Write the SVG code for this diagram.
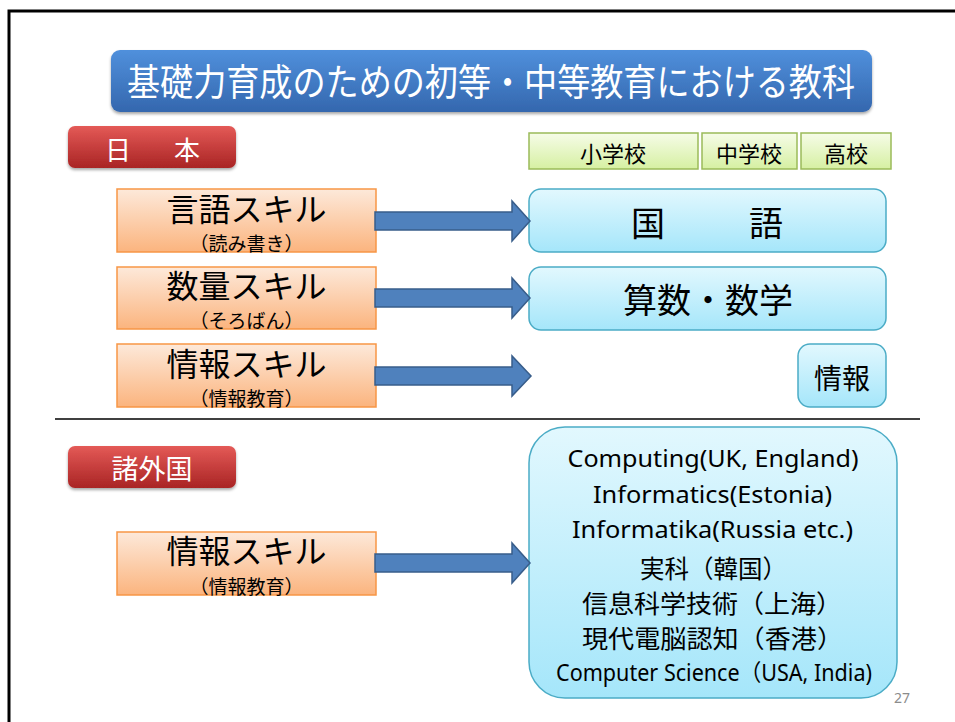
<svg xmlns="http://www.w3.org/2000/svg" width="955" height="722" viewBox="0 0 955 722">
<defs>
<linearGradient id="gTitle" x1="0" y1="0" x2="0" y2="1"><stop offset="0" stop-color="#5090dc"/><stop offset="1" stop-color="#3467ae"/></linearGradient>
<linearGradient id="gRed" x1="0" y1="0" x2="0" y2="1"><stop offset="0" stop-color="#e45a57"/><stop offset="1" stop-color="#a92424"/></linearGradient>
<linearGradient id="gOrange" x1="0" y1="0" x2="0" y2="1"><stop offset="0" stop-color="#fde9da"/><stop offset="1" stop-color="#fbb47e"/></linearGradient>
<linearGradient id="gGreen" x1="0" y1="0" x2="0" y2="1"><stop offset="0" stop-color="#f6fce8"/><stop offset="1" stop-color="#d6f0a2"/></linearGradient>
<linearGradient id="gBlue" x1="0" y1="0" x2="0" y2="1"><stop offset="0" stop-color="#e2f8fe"/><stop offset="1" stop-color="#a5e6fa"/></linearGradient>
<filter id="shadow" x="-5%" y="-10%" width="110%" height="130%"><feDropShadow dx="0" dy="2" stdDeviation="1.5" flood-color="#000" flood-opacity="0.35"/></filter>
</defs>
<style>
.jp{font-family:"Noto Sans CJK JP","Noto Sans",sans-serif}
.lat{font-family:"Noto Sans","Noto Sans CJK JP",sans-serif}
.c{text-anchor:middle;dominant-baseline:central}
.title{fill:url(#gTitle);filter:url(#shadow)}
.red{fill:url(#gRed);filter:url(#shadow)}
.skill{fill:url(#gOrange);stroke:#f79646;stroke-width:1.5}
.hdr{fill:url(#gGreen);stroke:#9bbb59;stroke-width:1.5}
.subj{fill:url(#gBlue);stroke:#4bacc6;stroke-width:1.5}
.arrow{fill:#4f81bd;stroke:#385d8a;stroke-width:1.5}
.w{fill:#fff}
.k{fill:#000}
</style>
<rect width="955" height="722" fill="#fff"/>
<path d="M9,722 V11 H955" fill="none" stroke="#000" stroke-width="3"/>
<line x1="55" y1="419" x2="920" y2="419" stroke="#404040" stroke-width="2"/>

<g id="title">
<rect class="title" x="111" y="50" width="761" height="62" rx="9"/>
<text class="jp c w" x="491" y="80" font-size="37" textLength="728" lengthAdjust="spacingAndGlyphs">基礎力育成のための初等・中等教育における教科</text>
</g>

<g id="japan">
<rect class="red" x="68" y="126" width="168" height="42" rx="7"/>
<text class="jp c w" font-size="26"><tspan x="118" y="148">日</tspan><tspan x="187" y="148">本</tspan></text>
</g>

<g id="hdr-elem"><rect class="hdr" x="529" y="133" width="169" height="36"/><text class="jp c k" x="613" y="152" font-size="22">小学校</text></g>
<g id="hdr-mid"><rect class="hdr" x="702" y="133" width="95" height="36"/><text class="jp c k" x="749" y="152" font-size="22">中学校</text></g>
<g id="hdr-high"><rect class="hdr" x="801" y="133" width="90" height="36"/><text class="jp c k" x="846" y="152" font-size="22">高校</text></g>

<g id="skill-lang">
<rect class="skill" x="117" y="189" width="259" height="63"/>
<text class="jp c k" x="246.5" y="207" font-size="32">言語スキル</text>
<text class="jp c k" x="246.5" y="242" font-size="19">（読み書き）</text>
</g>
<g id="skill-num">
<rect class="skill" x="117" y="267" width="259" height="62"/>
<text class="jp c k" x="246.5" y="284" font-size="32">数量スキル</text>
<text class="jp c k" x="246.5" y="319" font-size="19">（そろばん）</text>
</g>
<g id="skill-info">
<rect class="skill" x="117" y="344" width="259" height="63"/>
<text class="jp c k" x="246.5" y="362" font-size="32">情報スキル</text>
<text class="jp c k" x="246.5" y="397" font-size="19">（情報教育）</text>
</g>

<g id="subj-kokugo">
<rect class="subj" x="529" y="189" width="357" height="63" rx="12"/>
<text class="jp c k" font-size="34"><tspan x="648" y="221">国</tspan><tspan x="766" y="221">語</tspan></text>
</g>
<g id="subj-math">
<rect class="subj" x="529" y="267" width="357" height="63" rx="12"/>
<text class="jp c k" x="708" y="298" font-size="34">算数・数学</text>
</g>
<g id="subj-info">
<rect class="subj" x="798" y="344" width="88" height="63" rx="12"/>
<text class="jp c k" x="842" y="377" font-size="28">情報</text>
</g>

<g id="foreign">
<rect class="red" x="68" y="446" width="168" height="42" rx="7"/>
<text class="jp c w" x="152" y="467" font-size="27">諸外国</text>
</g>
<g id="skill-info-foreign">
<rect class="skill" x="117" y="532" width="259" height="63"/>
<text class="jp c k" x="246.5" y="549" font-size="32">情報スキル</text>
<text class="jp c k" x="246.5" y="585" font-size="19">（情報教育）</text>
</g>

<g id="subj-foreign">
<rect class="subj" x="529" y="427" width="368" height="271" rx="36"/>
<text class="lat c k" x="713" y="458" font-size="23" textLength="291" lengthAdjust="spacingAndGlyphs">Computing(UK, England)</text>
<text class="lat c k" x="712.5" y="494" font-size="23" textLength="239" lengthAdjust="spacingAndGlyphs">Informatics(Estonia)</text>
<text class="lat c k" x="712.5" y="529" font-size="23" textLength="281" lengthAdjust="spacingAndGlyphs">Informatika(Russia etc.)</text>
<text class="jp c k" x="713.5" y="567" font-size="25" textLength="147" lengthAdjust="spacingAndGlyphs">実科（韓国）</text>
<text class="jp c k" x="712" y="602" font-size="25" textLength="260" lengthAdjust="spacingAndGlyphs">信息科学技術（上海）</text>
<text class="jp c k" x="712.5" y="637" font-size="25" textLength="261" lengthAdjust="spacingAndGlyphs">現代電脳認知（香港）</text>
<text class="lat c k" x="714" y="672" font-size="23" textLength="316" lengthAdjust="spacingAndGlyphs">Computer Science（USA,  India)</text>
</g>

<g id="connectors">
<polygon class="arrow" points="375,212 512,212 512,201 530,221 512,241 512,230 375,230"/>
<polygon class="arrow" points="375,289 512,289 512,278 530,298 512,318 512,307 375,307"/>
<polygon class="arrow" points="375,367 512,367 512,356 531,376 512,396 512,385 375,385"/>
<polygon class="arrow" points="375,554 512,554 512,543 530,563 512,583 512,572 375,572"/>
</g>

<text class="lat" x="902" y="703" font-size="14" fill="#8c8c8c" text-anchor="middle">27</text>
</svg>
